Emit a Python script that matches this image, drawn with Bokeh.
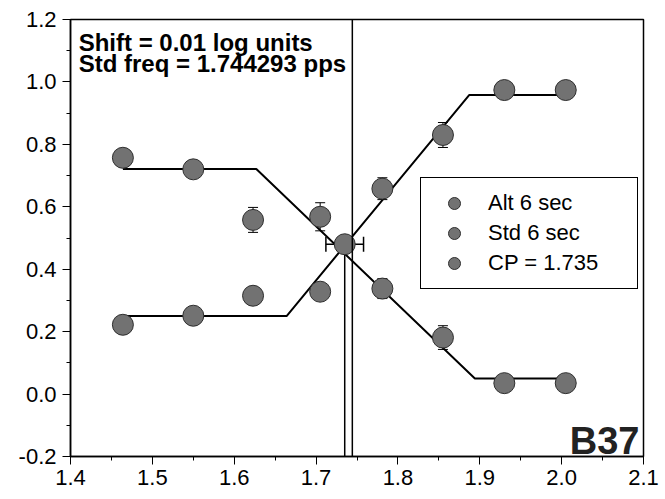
from bokeh.plotting import figure
from bokeh.models import (Range1d, FixedTicker, PrintfTickFormatter, Whisker, TeeHead,
                          ColumnDataSource, Legend, LegendItem, Label, Span)
from bokeh.embed import file_html
from bokeh.resources import INLINE

# ---- data ----
freq = [1.464, 1.550, 1.623, 1.705, 1.781, 1.855, 1.930, 2.005]
alt_6sec = [0.222, 0.251, 0.315, 0.328, 0.658, 0.830, 0.974, 0.974]
alt_err = [0.02, 0.02, 0.02, 0.02, 0.035, 0.04, 0.02, 0.02]
std_6sec = [0.757, 0.720, 0.558, 0.568, 0.338, 0.181, 0.035, 0.035]
std_err = [0.02, 0.02, 0.04, 0.045, 0.032, 0.038, 0.02, 0.02]

alt_fit_x = [1.464, 1.664, 1.887, 2.005]
alt_fit_y = [0.250, 0.250, 0.958, 0.958]
std_fit_x = [1.464, 1.627, 1.894, 2.005]
std_fit_y = [0.721, 0.721, 0.050, 0.050]

cp_x = 1.735
cp_y = 0.48
cp_err = 0.023
std_freq = 1.744293

x_ticks = [1.4, 1.5, 1.6, 1.7, 1.8, 1.9, 2.0, 2.1]
x_minor = [1.45, 1.55, 1.65, 1.75, 1.85, 1.95, 2.05]
y_ticks = [-0.2, 0.0, 0.2, 0.4, 0.6, 0.8, 1.0, 1.2]
y_minor = [-0.1, 0.1, 0.3, 0.5, 0.7, 0.9, 1.1]

note_1 = "Shift = 0.01 log units"
note_2 = "Std freq = 1.744293 pps"
panel_id = "B37"
labels = ["Alt 6 sec", "Std 6 sec", "CP = 1.735"]

FONT = "Liberation Sans"
FILL = "#727272"
EDGE = "#2e2e2e"

x_lo, x_hi = x_ticks[0], x_ticks[-1]
y_lo, y_hi = y_ticks[0], y_ticks[-1]

p = figure(width=665, height=499, output_backend="svg", toolbar_location=None,
           x_range=Range1d(x_lo, x_hi), y_range=Range1d(y_lo, y_hi),
           min_border_left=70, min_border_right=22, min_border_top=19, min_border_bottom=43)
p.grid.visible = False
p.outline_line_color = "black"
p.outline_line_width = 1.5
p.outline_line_alpha = 1.0
p.background_fill_color = "white"
p.border_fill_color = "white"

for ax, tk, mn in ((p.xaxis[0], x_ticks, x_minor), (p.yaxis[0], y_ticks, y_minor)):
    ax.ticker = FixedTicker(ticks=tk, minor_ticks=mn)
    ax.formatter = PrintfTickFormatter(format="%.1f")
    ax.major_label_text_font = FONT
    ax.major_label_text_font_size = "22px"
    ax.major_label_text_color = "black"
    ax.axis_line_color = "black"
    ax.axis_line_width = 1.5
    ax.major_tick_line_color = "black"
    ax.minor_tick_line_color = "black"
    ax.major_tick_out = 8
    ax.major_tick_in = 0
    ax.minor_tick_out = 4
    ax.minor_tick_in = 0
p.xaxis.major_label_standoff = 5
p.yaxis.major_label_standoff = 6

# error bars
alt_src = ColumnDataSource(dict(x=freq, y=alt_6sec,
                                lo=[v - e for v, e in zip(alt_6sec, alt_err)],
                                hi=[v + e for v, e in zip(alt_6sec, alt_err)]))
std_src = ColumnDataSource(dict(x=freq, y=std_6sec,
                                lo=[v - e for v, e in zip(std_6sec, std_err)],
                                hi=[v + e for v, e in zip(std_6sec, std_err)]))
for src in (alt_src, std_src):
    p.add_layout(Whisker(source=src, base="x", lower="lo", upper="hi", dimension="height",
                         line_color="black", line_width=1, level="underlay",
                         upper_head=TeeHead(size=10, line_color="black", line_width=1),
                         lower_head=TeeHead(size=10, line_color="black", line_width=1)))

cp_src = ColumnDataSource(dict(x=[cp_x], y=[cp_y], lo=[cp_x - cp_err], hi=[cp_x + cp_err]))
p.add_layout(Whisker(source=cp_src, base="y", lower="lo", upper="hi", dimension="width",
                     line_color="black", line_width=1.5, level="underlay",
                     upper_head=TeeHead(size=15, line_color="black", line_width=1.5),
                     lower_head=TeeHead(size=15, line_color="black", line_width=1.5)))

# fitted lines
p.line(alt_fit_x, alt_fit_y, line_color="black", line_width=2)
p.line(std_fit_x, std_fit_y, line_color="black", line_width=2)

# CP drop line and standard frequency line
p.segment(x0=[cp_x], y0=[cp_y], x1=[cp_x], y1=[y_lo], line_color="black", line_width=1.5)

r_alt = p.scatter("x", "y", source=alt_src, size=21, fill_color=FILL, line_color=EDGE, line_width=1)
r_std = p.scatter("x", "y", source=std_src, size=21, fill_color=FILL, line_color=EDGE, line_width=1)
r_cp = p.scatter("x", "y", source=cp_src, size=21, fill_color=FILL, line_color=EDGE, line_width=1)

p.add_layout(Span(location=std_freq, dimension="height", line_color="black", line_width=1.5))

legend = Legend(items=[LegendItem(label=labels[0], renderers=[r_alt]),
                       LegendItem(label=labels[1], renderers=[r_std]),
                       LegendItem(label=labels[2], renderers=[r_cp])],
                location=(350, 167), margin=0, padding=10, spacing=0,
                glyph_width=46, glyph_height=30, label_standoff=11, label_width=139,
                label_height=20,
                label_text_font=FONT, label_text_font_size="22px", label_text_color="black",
                border_line_color="black", border_line_width=1.5, border_line_alpha=1.0,
                background_fill_color="white", background_fill_alpha=1.0)
p.add_layout(legend, "center")

p.add_layout(Label(x=1.41, y=1.125, text=note_1, text_font=FONT, text_font_size="24px",
                   text_font_style="bold", text_color="black", text_baseline="alphabetic"))
p.add_layout(Label(x=1.41, y=1.058, text=note_2, text_font=FONT, text_font_size="24px",
                   text_font_style="bold", text_color="black", text_baseline="alphabetic"))
p.add_layout(Label(x=2.095, y=-0.149, text=panel_id, text_font=FONT, text_font_size="38px",
                   text_font_style="bold", text_color="#222222", text_align="right",
                   text_baseline="alphabetic"))

open("out.html", "w").write(file_html(p, INLINE))
